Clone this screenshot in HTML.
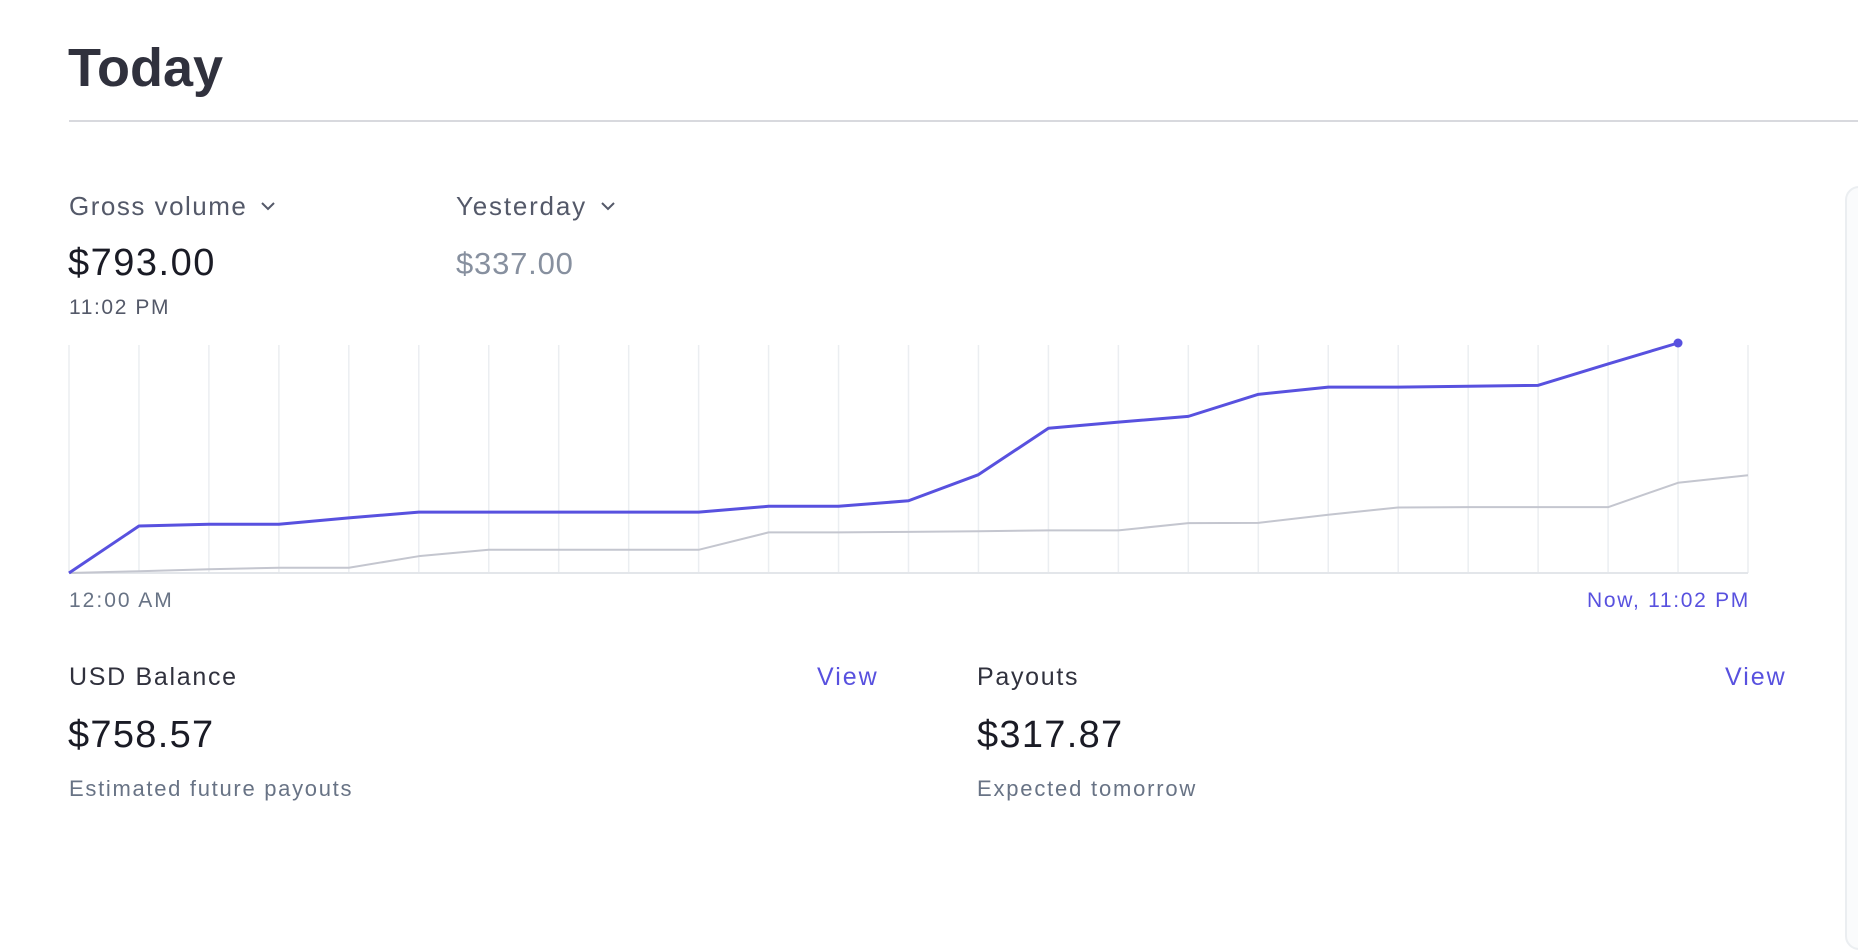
<!DOCTYPE html>
<html><head><meta charset="utf-8"><style>
html,body{margin:0;padding:0;background:#fff;width:1858px;height:886px;overflow:hidden;font-family:"Liberation Sans",sans-serif;}
.a{position:absolute;white-space:nowrap;}
.chev{display:inline-block;vertical-align:middle;margin-left:14px;margin-top:-4px;}
</style></head><body>
<div class="a" style="left:68px;top:37px;font-size:54px;font-weight:bold;color:#30313d;letter-spacing:0px;">Today</div>
<div class="a" style="left:69px;top:120px;width:1789px;height:2px;background:#d8d9de;"></div>
<div class="a" style="left:1845px;top:186px;width:40px;height:760px;border:2px solid #ebeef1;border-radius:14px;background:#fafbfc;"></div>

<div class="a" style="left:69px;top:191px;font-size:26px;letter-spacing:1.5px;color:#545969;">Gross volume<svg class="chev" width="14" height="9" viewBox="0 0 14 9"><path d="M1 1 L7 7 L13 1" fill="none" stroke="#545969" stroke-width="2"/></svg></div>
<div class="a" style="left:68px;top:242px;font-size:38px;letter-spacing:1.5px;color:#1a1b25;">$793.00</div>
<div class="a" style="left:69px;top:296px;font-size:21px;letter-spacing:1.6px;color:#545969;">11:02 PM</div>
<div class="a" style="left:456px;top:191px;font-size:26px;letter-spacing:1.8px;color:#545969;">Yesterday<svg class="chev" width="14" height="9" viewBox="0 0 14 9"><path d="M1 1 L7 7 L13 1" fill="none" stroke="#545969" stroke-width="2"/></svg></div>
<div class="a" style="left:456px;top:246px;font-size:31px;letter-spacing:0.8px;color:#87909f;">$337.00</div>

<svg class="a" id="chart" style="left:0;top:0;" width="1858" height="886"></svg>

<div class="a" style="left:69px;top:589px;font-size:21px;letter-spacing:2px;color:#687385;">12:00 AM</div>
<div class="a" style="right:108px;top:589px;font-size:21px;letter-spacing:1.7px;color:#5851df;">Now, 11:02 PM</div>

<div class="a" style="left:69px;top:663px;font-size:25px;letter-spacing:1.7px;color:#30313d;">USD Balance</div>
<div class="a" style="left:817px;top:663px;font-size:25px;letter-spacing:2px;color:#5851df;">View</div>
<div class="a" style="left:68px;top:714px;font-size:38px;letter-spacing:1.3px;color:#1a1b25;">$758.57</div>
<div class="a" style="left:69px;top:776px;font-size:22px;letter-spacing:1.7px;color:#687385;">Estimated future payouts</div>

<div class="a" style="left:977px;top:663px;font-size:25px;letter-spacing:1.7px;color:#30313d;">Payouts</div>
<div class="a" style="left:1725px;top:663px;font-size:25px;letter-spacing:2px;color:#5851df;">View</div>
<div class="a" style="left:977px;top:714px;font-size:38px;letter-spacing:1.3px;color:#1a1b25;">$317.87</div>
<div class="a" style="left:977px;top:776px;font-size:22px;letter-spacing:1.8px;color:#687385;">Expected tomorrow</div>

<script>
const hours = [0,1,2,3,4,5,6,7,8,9,10,11,12,13,14,15,16,17,18,19,20,21,22,23,24];
const todayValues = [0,162,168,168,190,210,210,210,210,210,230,230,249,339,499,520,540,616,641,641,644,647,721,793];
const yesterdayValues = [0,6,13,18,18,58,80,80,80,80,140,140,142,144,147,147,172,173,201,226,227,227,227,311,337];
const yMax = 793;
const X0=69,X1=1748,Y0=573,Y1=343;
const xs = h => X0 + (X1-X0)*h/24;
const ys = v => Y0 - (Y0-Y1)*v/yMax;
const svg = document.getElementById('chart');
const NS='http://www.w3.org/2000/svg';
hours.forEach(h=>{
  const l=document.createElementNS(NS,'line');
  
  
  l.setAttribute('x1',xs(h));l.setAttribute('x2',xs(h));
  l.setAttribute('y1',345);l.setAttribute('y2',Y0);
  l.setAttribute('stroke','#ebeef1');l.setAttribute('stroke-width','1.5');
  svg.appendChild(l);
});
const base=document.createElementNS(NS,'line');


base.setAttribute('x1',X0);base.setAttribute('x2',X1);base.setAttribute('y1',Y0);base.setAttribute('y2',Y0);
base.setAttribute('stroke','#e3e6ea');base.setAttribute('stroke-width','2');
svg.appendChild(base);
function line(vals,color,w,name){
  const p=document.createElementNS(NS,'polyline');
  
  
  p.setAttribute('points',vals.map((v,i)=>xs(hours[i])+','+ys(v)).join(' '));
  p.setAttribute('fill','none');p.setAttribute('stroke',color);p.setAttribute('stroke-width',w);
  p.setAttribute('stroke-linejoin','round');
  svg.appendChild(p);
}
line(yesterdayValues,'#c4c6cf',2,'yesterday-line');
line(todayValues,'#5851df',3,'today-line');
const last=todayValues.length-1;
const dot=document.createElementNS(NS,'circle');


dot.setAttribute('cx',xs(hours[last]));dot.setAttribute('cy',ys(todayValues[last]));dot.setAttribute('r',4.5);
dot.setAttribute('fill','#5851df');
svg.appendChild(dot);
</script>
</body></html>
